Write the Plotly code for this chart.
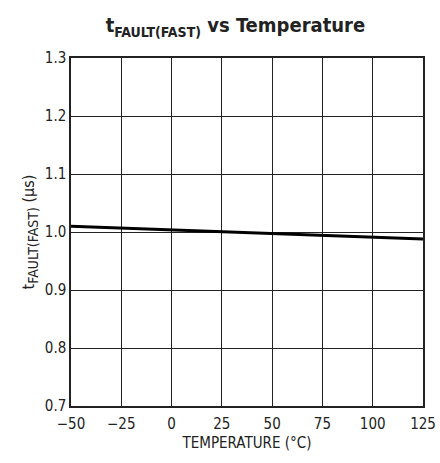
import plotly.graph_objects as go

temperature = [-50, -25, 0, 25, 50, 75, 100, 125]
t_fault_fast = [1.010, 1.007, 1.003, 1.001, 0.998, 0.995, 0.991, 0.988]
x_ticks = [-50, -25, 0, 25, 50, 75, 100, 125]
x_ticklabels = ["\u221250", "\u221225", "0", "25", "50", "75", "100", "125"]
y_ticks = [0.7, 0.8, 0.9, 1.0, 1.1, 1.2, 1.3]
y_ticklabels = ["0.7", "0.8", "0.9", "1.0", "1.1", "1.2", "1.3"]

FONT = "DejaVu Sans Condensed, Liberation Sans Narrow, sans-serif"

fig = go.Figure()
fig.add_trace(go.Scatter(x=temperature, y=t_fault_fast, mode="lines",
                         line=dict(color="black", width=3), showlegend=False))

fig.update_layout(
    width=440, height=463,
    margin=dict(l=71, r=17, t=58, b=57, autoexpand=False),
    paper_bgcolor="white", plot_bgcolor="white",
    font=dict(family=FONT, color="#222", size=15),
    title=dict(text="<b>t<sub>FAULT(FAST)</sub> vs Temperature</b>",
               x=0.535, xanchor="center", y=0.945, yanchor="middle",
               font=dict(family=FONT, size=20, color="#222")),
)
fig.update_xaxes(range=[-50, 125], tickvals=x_ticks, ticktext=x_ticklabels,
                 showgrid=True, gridcolor="#222", gridwidth=1,
                 showline=True, linecolor="#222", linewidth=1.5, mirror=True,
                 zeroline=False, ticks="", ticklen=0, automargin=False,
                 ticklabelstandoff=3,
                 title=dict(text="TEMPERATURE (\u00b0C)", standoff=6,
                            font=dict(size=15)))
fig.update_yaxes(range=[0.7, 1.3], tickvals=y_ticks, ticktext=y_ticklabels,
                 showgrid=True, gridcolor="#222", gridwidth=1,
                 showline=True, linecolor="#222", linewidth=1.5, mirror=True,
                 zeroline=False, ticks="", ticklen=0, automargin=False,
                 title=dict(text="t<sub><span style='font-size:14px'>FAULT(FAST)</span></sub> (\u00b5s)",
                            standoff=6, font=dict(size=16)))

fig.write_html("out.html", config={"displayModeBar": False},
               post_script="document.body.style.margin='0';document.body.style.overflow='hidden';")
